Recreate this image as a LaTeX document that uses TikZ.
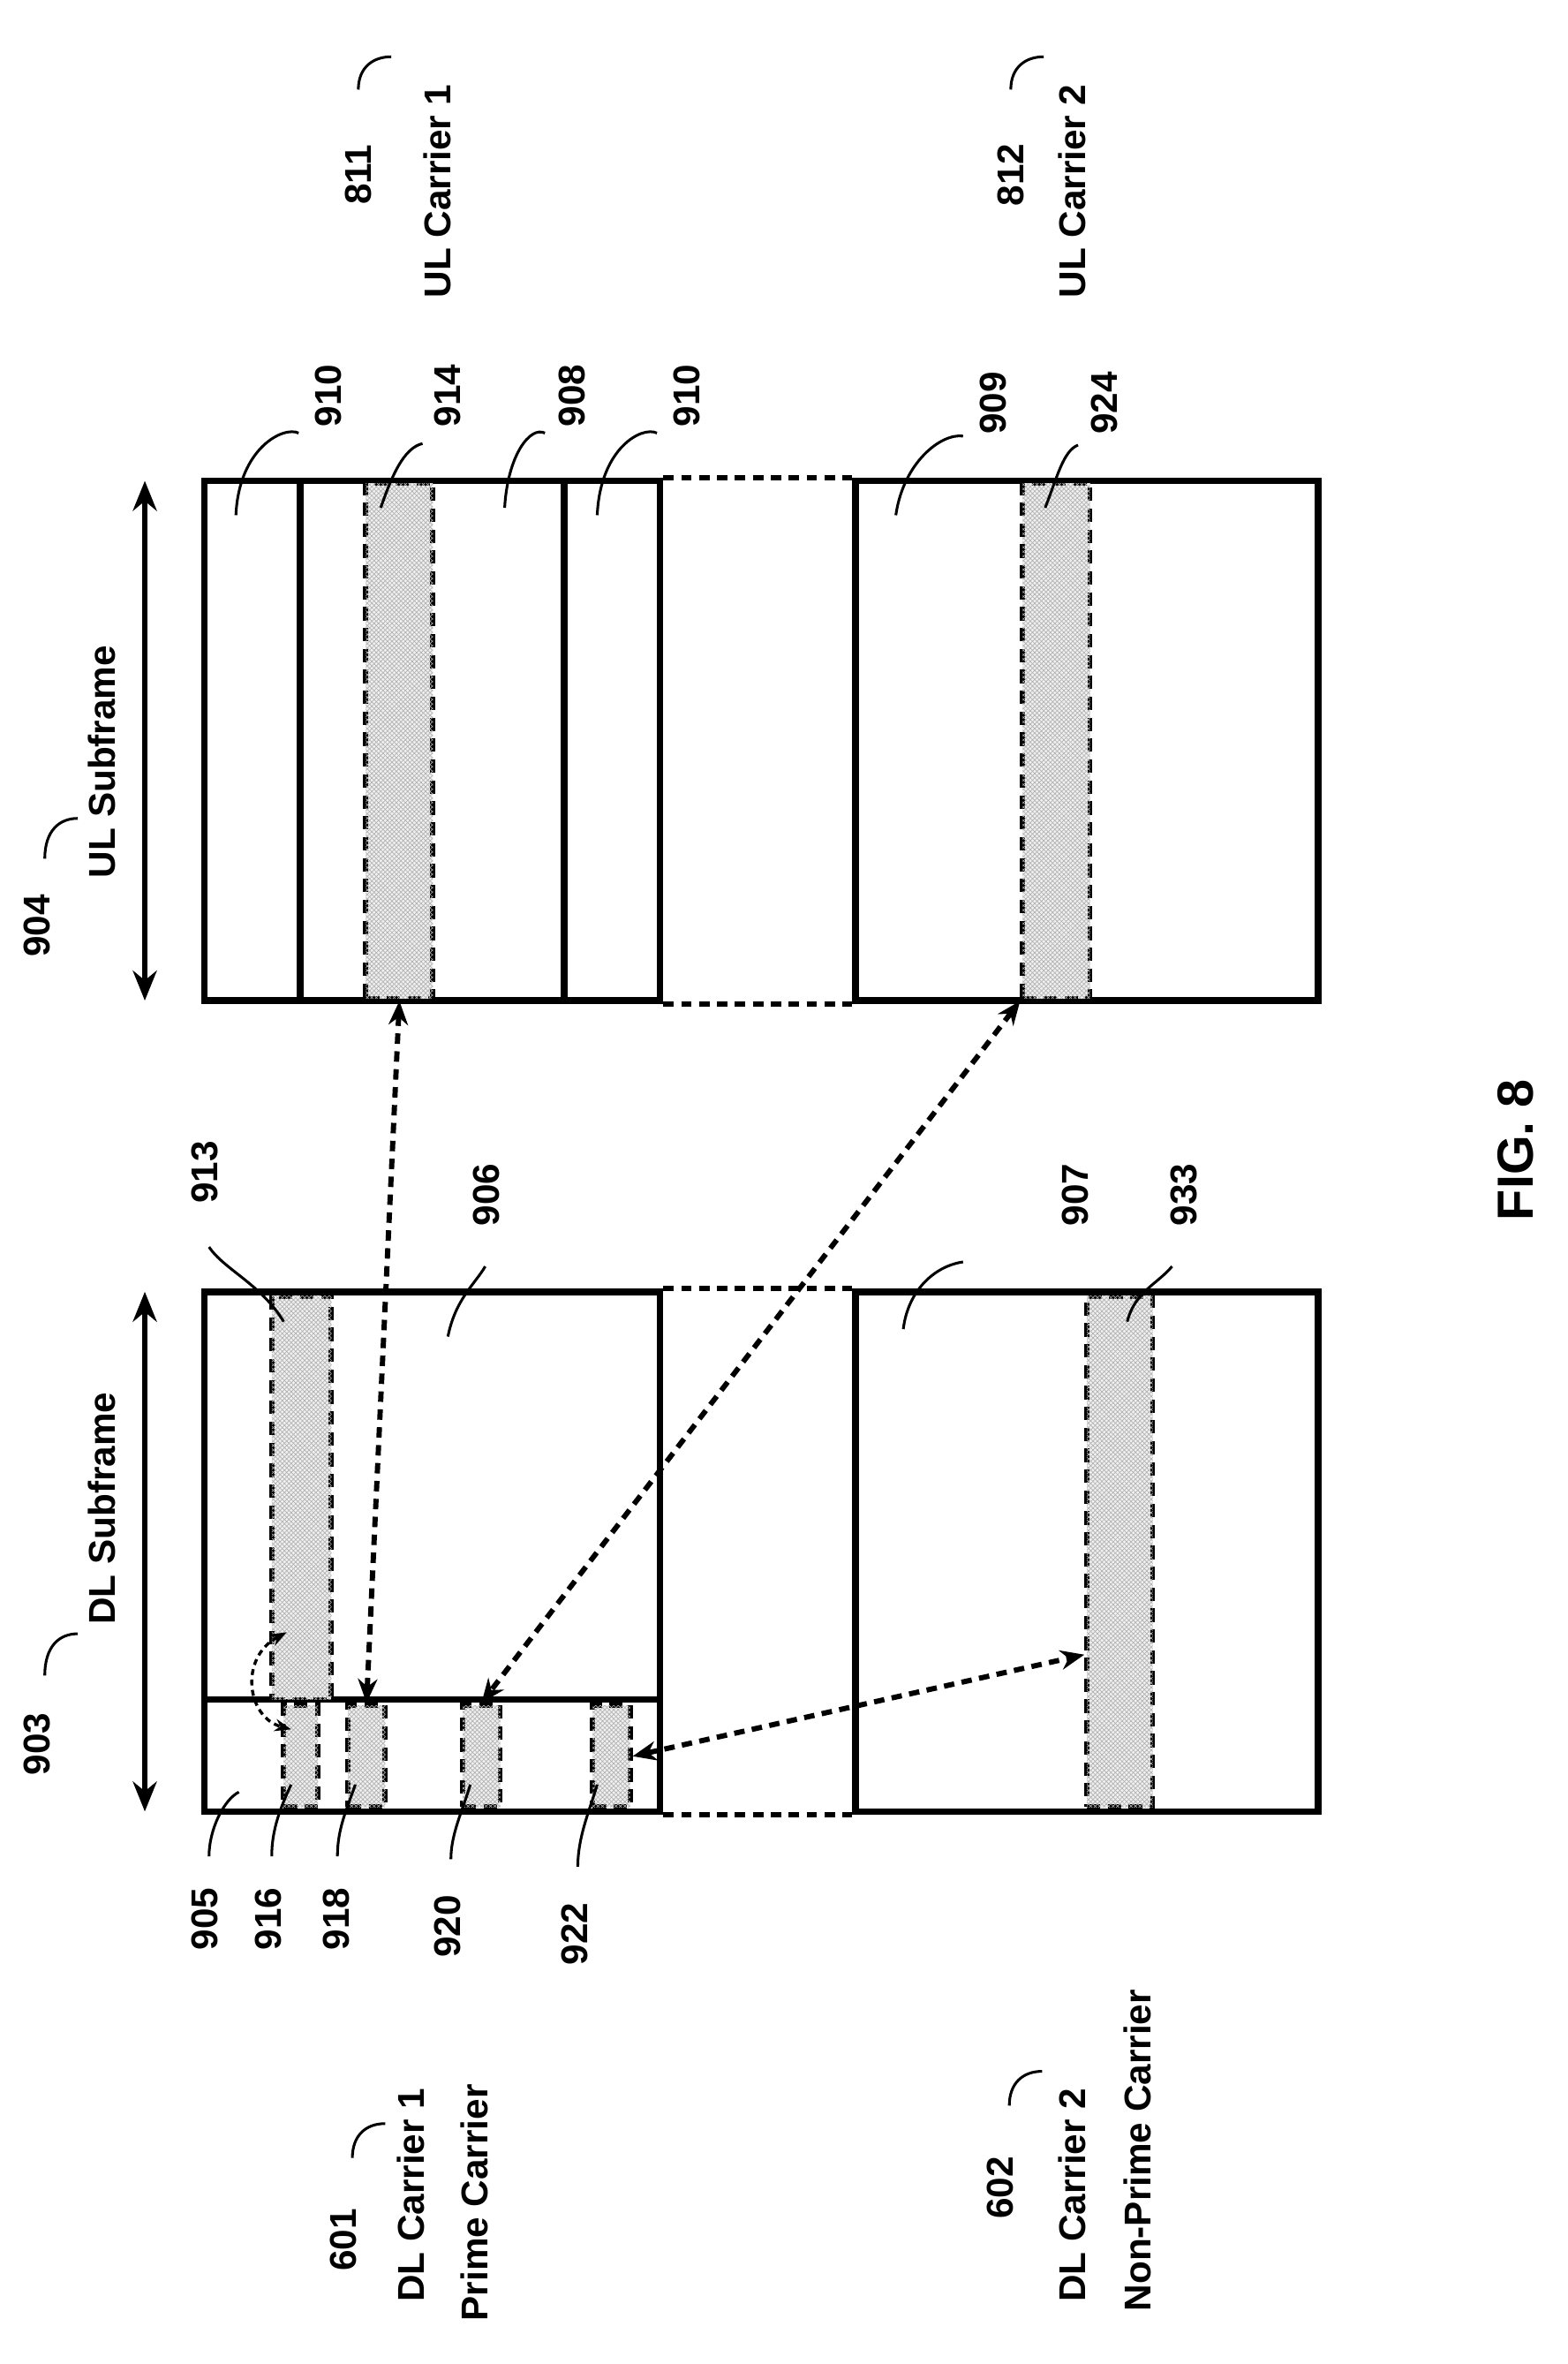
\documentclass[tikz,border=0pt]{standalone}
\usepackage{fontspec}
\setmainfont{Liberation Sans}
\usetikzlibrary{patterns,arrows.meta}
\begin{document}
\begin{tikzpicture}[x=1pt,y=-1pt,
  box/.style={draw,line width=4.5pt,inner sep=0,rectangle},
  bar/.style={draw,line width=3.5pt,dash pattern=on 9pt off 5pt,fill=gray!12,
    postaction={pattern=crosshatch,pattern color=gray!60},inner sep=0},
  lbl/.style={font=\bfseries\fontsize{25}{28}\selectfont,rotate=90,inner sep=1pt},
  lead/.style={line width=1.8pt},
  link/.style={line width=3.5pt,dash pattern=on 7pt off 5pt},
  dlink/.style={line width=3.5pt,dash pattern=on 7pt off 5pt,{Stealth[length=16pt,width=13pt]}-{Stealth[length=16pt,width=13pt]}},
  span/.style={line width=3.5pt,{Stealth[length=20pt,width=16pt]}-{Stealth[length=20pt,width=16pt]}}]
\useasboundingbox (0,0) rectangle (1050,1583);
% boxes
\node[box,minimum width=305,minimum height=348] (ul1) at (289.5,496) {};
\node[box,minimum width=310,minimum height=348] (ul2) at (728,496) {};
\node[box,minimum width=305,minimum height=348] (dl1) at (289.5,1039) {};
\node[box,minimum width=310,minimum height=348] (dl2) at (728,1039) {};
\draw[line width=4.5pt] (201,322) -- (201,670) (378,322) -- (378,670);
\draw[line width=4.5pt] (137,1138) -- (442,1138);
% bars
\node[bar,minimum width=45,minimum height=345] (b914) at (267.5,496) {};
\node[bar,minimum width=45,minimum height=345] (b924) at (707.5,496) {};
\node[bar,minimum width=40,minimum height=270] (b913) at (202,1003) {};
\node[bar,minimum width=44,minimum height=342] (b933) at (750,1039) {};
\node[bar,minimum width=23,minimum height=68] (b916) at (201.5,1176) {};
\node[bar,minimum width=25,minimum height=68] (b918) at (245.5,1176) {};
\node[bar,minimum width=25,minimum height=68] (b920) at (322.5,1176) {};
\node[bar,minimum width=25,minimum height=68] (b922) at (409.5,1176) {};
% carrier links
\draw[link] (ul1.north east) -- (ul2.north west) (ul1.south east) -- (ul2.south west);
\draw[link] (dl1.north east) -- (dl2.north west) (dl1.south east) -- (dl2.south west);
% subframe spans
\draw[span] (97,322) -- (97,670);
\draw[span] (97,865) -- (97,1213);
% grants
\draw[dlink] (b914.south) -- (b918.north);
\draw[dlink] (b924.south west) -- (b920.north);
\draw[dlink] (b922.east) -- (b933.west |- 0,1108);
\draw[line width=2pt,dash pattern=on 4pt off 3pt,{Stealth[length=11pt]}-{Stealth[length=11pt]}]
  (192,1093) .. controls (160,1110) and (165,1150) .. (195,1158);
% labels
\node[lbl] at (240,117) {811};
\node[lbl] at (293,128) {UL Carrier 1};
\node[lbl] at (677,117) {812};
\node[lbl] at (718,128) {UL Carrier 2};
\draw[lead] (240,60) .. controls (240,45) and (250,38) .. (262,38);
\draw[lead] (677,60) .. controls (677,45) and (687,38) .. (699,38);
\node[lbl] at (25,620) {904};
\node[lbl] at (68,510) {UL Subframe};
\draw[lead] (30,575) .. controls (30,556) and (40,548) .. (52,548);
\node[lbl] at (25,1168) {903};
\node[lbl] at (68,1010) {DL Subframe};
\draw[lead] (30,1122) .. controls (30,1102) and (40,1094) .. (52,1094);
\node[lbl] at (220,265) {910};
\node[lbl] at (300,265) {914};
\node[lbl] at (383,265) {908};
\node[lbl] at (460,265) {910};
\node[lbl] at (665,270) {909};
\node[lbl] at (740,270) {924};
\draw[lead] (200,290) .. controls (190,285) and (160,300) .. (158,345);
\draw[lead] (283,297) .. controls (270,300) and (262,320) .. (255,340);
\draw[lead] (365,290) .. controls (355,285) and (340,305) .. (338,340);
\draw[lead] (440,290) .. controls (430,285) and (402,300) .. (400,345);
\draw[lead] (645,292) .. controls (630,290) and (605,310) .. (600,345);
\draw[lead] (722,298) .. controls (712,302) and (708,320) .. (700,340);
\node[lbl] at (137,785) {913};
\node[lbl] at (326,800) {906};
\node[lbl] at (720,800) {907};
\node[lbl] at (793,800) {933};
\draw[lead] (140,835) .. controls (150,850) and (175,860) .. (190,885);
\draw[lead] (325,848) .. controls (318,860) and (305,870) .. (300,895);
\draw[lead] (645,845) .. controls (625,848) and (608,865) .. (605,890);
\draw[lead] (785,848) .. controls (775,860) and (760,865) .. (755,885);
\node[lbl] at (137,1285) {905};
\node[lbl] at (180,1285) {916};
\node[lbl] at (225,1285) {918};
\node[lbl] at (300,1290) {920};
\node[lbl] at (385,1295) {922};
\draw[lead] (140,1243) .. controls (140,1225) and (150,1205) .. (160,1200);
\draw[lead] (182,1243) .. controls (182,1225) and (188,1210) .. (195,1195);
\draw[lead] (226,1243) .. controls (226,1225) and (232,1212) .. (238,1195);
\draw[lead] (302,1245) .. controls (302,1228) and (310,1212) .. (315,1195);
\draw[lead] (387,1250) .. controls (387,1230) and (395,1212) .. (400,1195);
\node[lbl] at (230,1500) {601};
\node[lbl] at (275,1470) {DL Carrier 1};
\node[lbl] at (318,1475) {Prime Carrier};
\draw[lead] (236,1445) .. controls (236,1430) and (245,1422) .. (258,1422);
\node[lbl] at (670,1465) {602};
\node[lbl] at (718,1470) {DL Carrier 2};
\node[lbl] at (762,1440) {Non-Prime Carrier};
\draw[lead] (676,1410) .. controls (676,1395) and (685,1387) .. (698,1387);
\node[lbl,font=\bfseries\fontsize{34}{38}\selectfont] at (1015,770) {FIG. 8};
\end{tikzpicture}
\end{document}
